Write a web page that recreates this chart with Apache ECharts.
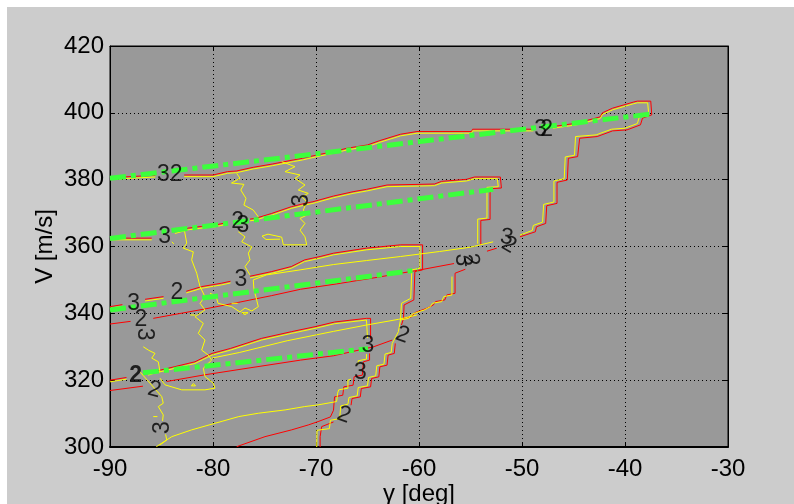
<!DOCTYPE html>
<html>
<head>
<meta charset="utf-8">
<script src="https://cdn.jsdelivr.net/npm/echarts@6/dist/echarts.min.js"></script>
<style>
html,body{margin:0;padding:0;background:#ffffff;}
#bg{position:absolute;left:7px;top:7px;width:787px;height:497px;background:#cccccc;}
#chart{position:absolute;left:0;top:0;width:794px;height:504px;}
</style>
</head>
<body>
<div id="bg"></div>
<div id="chart"></div>
<script>
// ---- axes ----
const xMin = -90, xMax = -30, xStep = 10;
const yMin = 300, yMax = 420, yStep = 20;
const xName = 'γ [deg]';
const yName = 'V [m/s]';

// ---- green dash-dot reference lines ----
const green1 = [[-90,380.4],[-37.6,399.6]];
const green2 = [[-90,362.4],[-52.8,377.1]];
const green3 = [[-90,341.0],[-60.1,353.0]];
const green4 = [[-86.8,322.2],[-64.95,329.4]];

// ---- red contours (level 2) ----
const r1a = [[-90,380.6],[-85.6,381.3]];
const r1b = [[-82.8,381.4],[-80.0,381.4],[-78.6,382.4],[-77.7,382.6],[-76.1,383.7],[-74.2,384.7],[-72.2,385.9],[-71.3,386.4],[-69.9,387.4],[-68.3,388.4],[-67.0,389.4],[-65.0,390.4],[-63.8,391.7],[-61.8,393.6],[-60.2,394.4],[-54.9,394.4],[-54.8,395.1],[-48.9,395.1]];
const r1c = [[-47.0,395.9],[-44.7,396.9],[-42.4,398.8],[-42.2,400.0],[-41.2,401.4],[-39.2,403.2],[-38.8,403.5],[-37.5,403.5],[-37.4,399.4],[-38.3,398.4],[-38.5,396.4],[-39.8,394.9],[-41.2,394.6],[-42.7,392.9],[-44.4,392.4],[-44.6,386.9],[-45.5,386.4],[-45.6,379.9],[-46.6,379.2],[-46.6,372.9],[-47.6,372.2],[-47.7,366.9],[-48.6,365.9],[-48.7,364.4],[-50.2,362.9]];
const r2a = [[-90,362.5],[-85.95,362.5]];
const r2b = [[-83.7,364.4],[-82.4,365.5],[-81.1,366.0],[-79.8,366.4],[-78.6,367.2]];
const r2c = [[-76.4,368.2],[-75.9,368.4],[-74.3,369.9],[-72.4,371.9],[-71.1,372.9],[-70.3,373.4],[-68.3,375.1],[-66.4,376.4],[-65.1,377.1],[-63.1,378.4],[-59.9,378.6],[-58.5,378.7],[-57.8,379.5],[-55.4,380.1],[-54.6,380.8],[-52.1,380.8],[-52.0,377.5],[-53.1,377.3],[-53.1,368.1],[-54.0,367.8],[-54.0,360.5]];
const r3a = [[-90,342.0],[-88.8,342.6]];
const r3b = [[-86.6,344.2],[-84.8,345.0]];
const r3c = [[-82.6,346.6],[-81.1,348.0],[-79.2,349.0],[-78.3,349.6]];
const r3d = [[-76.4,351.1],[-74.3,352.5],[-72.4,354.0],[-71.1,356.0],[-69.6,357.0],[-68.3,358.0],[-65.1,359.5],[-61.8,360.5],[-59.65,360.5],[-59.65,353.0],[-60.4,352.5],[-60.5,344.0],[-61.45,342.5],[-61.5,338.5]];
const r4a = [[-90,320.0],[-88.4,320.8]];
const r4b = [[-86.3,322.0],[-85.8,322.5],[-81.75,325.5],[-80.1,328.0],[-78.3,329.5],[-75.3,332.5],[-72.4,334.5],[-70.1,336.0],[-68.2,337.4],[-65.1,338.5],[-64.7,338.5],[-64.7,332.3]];
const r4c = [[-64.8,328.0],[-64.8,326.0],[-65.4,325.5],[-65.5,321.5],[-66.3,321.0],[-66.4,318.5],[-67.3,318.0],[-67.4,315.5],[-68.2,315.0],[-68.3,311.0],[-68.6,309.0]];
const r5a = [[-90,336.8],[-88.0,337.6]];
const r5b = [[-85.8,338.5],[-80.8,341.3],[-77.5,343.3],[-74.3,345.3],[-71.5,347.2],[-68.0,348.8],[-64.0,350.8],[-59.9,353.0],[-56.6,354.9]];
const r5c = [[-53.4,358.6],[-52.45,359.5]];
const r6a = [[-90,316.9],[-86.8,318.2]];
const r6b = [[-84.5,319.6],[-80.8,321.6],[-76.6,323.6],[-71.5,326.0],[-68.3,327.3],[-64.4,330.0],[-62.6,332.0]];
const qRa = [[-55.5,353.2],[-56.5,352.0],[-56.5,346.0],[-57.3,345.5],[-57.5,344.0],[-58.4,343.5],[-58.6,342.5],[-59.25,341.5],[-59.7,341.0],[-60.4,340.2],[-60.7,339.0],[-61.5,338.5],[-61.7,336.5]];
const qRb = [[-62.3,331.0],[-62.4,328.0],[-63.0,327.5],[-63.1,324.5],[-63.8,324.0],[-63.9,321.0],[-64.6,320.5],[-64.7,318.0],[-65.6,317.5],[-65.7,315.0],[-66.5,314.5],[-66.6,312.5]];
const qRc = [[-68.3,307.5],[-69.45,306.1],[-69.6,303.1],[-69.6,300]];
const r7 = [[-77.7,300.1],[-74.95,303.1],[-72.4,305.1],[-70.75,306.6],[-69.8,307.6],[-68.6,309.0]];

// ---- yellow contours (level 3) ----
const y1a = [[-90,380.1],[-85.6,380.8]];
const y1b = [[-82.8,380.9],[-80.0,380.9],[-78.6,381.9],[-77.7,382.1],[-76.1,383.2],[-74.2,384.2],[-72.2,385.4],[-71.3,385.9],[-69.9,386.9],[-68.3,387.9],[-67.0,388.9],[-65.0,389.9],[-63.8,391.2],[-61.8,393.1],[-60.2,393.9],[-54.9,393.9],[-54.8,394.6],[-48.9,394.6]];
const y1c = [[-47.0,395.4],[-44.7,396.4],[-42.4,398.3],[-42.2,399.5],[-41.2,400.9],[-39.2,402.7],[-38.8,403.0],[-37.8,403.0],[-37.7,399.7],[-38.6,398.8],[-38.8,396.8],[-40.0,395.4],[-41.3,395.1],[-42.8,393.4],[-44.8,392.9],[-44.9,387.3],[-45.8,386.8],[-45.9,380.3],[-46.9,379.6],[-46.9,373.3],[-47.9,372.6],[-48.0,367.3],[-48.9,366.3],[-49.0,364.8],[-50.2,363.4]];
const y2a = [[-90,362.0],[-85.95,362.0]];
const y2b = [[-83.7,363.9],[-82.4,365.0],[-81.1,365.5],[-79.8,365.9],[-78.6,366.7]];
const y2c = [[-76.4,367.7],[-75.9,367.9],[-74.3,369.4],[-72.4,371.4],[-71.1,372.4],[-70.3,372.9],[-68.3,374.6],[-66.4,375.9],[-65.1,376.6],[-63.1,377.9],[-59.9,378.1],[-58.5,378.2],[-57.8,379.0],[-55.4,379.6],[-54.6,380.3],[-52.4,380.3],[-52.3,377.9],[-53.4,377.7],[-53.4,368.5],[-54.3,368.2],[-54.3,360.8]];
const y3a = [[-90,341.5],[-88.8,342.1]];
const y3b = [[-86.6,343.7],[-84.8,344.5]];
const y3c = [[-82.6,346.1],[-81.1,347.5],[-79.2,348.5],[-78.3,349.1]];
const y3d = [[-76.4,350.6],[-74.3,352.0],[-72.4,353.5],[-71.1,355.5],[-69.6,356.5],[-68.3,357.5],[-65.1,359.0],[-61.8,360.0],[-59.9,360.0],[-59.9,353.5],[-60.7,353.0],[-60.8,344.5],[-61.7,343.0],[-61.8,338.0]];
const y3in = [[-76.1,350.0],[-74.8,351.5],[-71.55,353.0],[-68.3,354.6],[-65.1,355.8],[-61.8,357.0],[-58.0,358.5],[-55.0,359.8],[-52.8,361.4]];
const y4a = [[-90,319.5],[-88.4,320.3]];
const y4b = [[-86.3,321.5],[-85.8,322.0],[-81.75,325.0],[-80.1,327.5],[-78.3,329.0],[-75.3,332.0],[-72.4,334.0],[-70.1,335.5],[-68.2,336.9],[-65.1,338.0],[-65.0,338.0],[-65.0,332.6]];
const y4c = [[-65.1,327.8],[-65.1,326.3],[-65.9,325.8],[-65.9,324.8]];
const y4d = [[-66.6,320.3],[-66.9,320.0],[-66.9,317.6],[-67.8,317.1],[-67.9,316.1]];
const y4in = [[-80.1,326.6],[-77.4,328.3],[-72.8,331.8],[-68.3,334.6],[-65.1,336.5],[-62.0,338.2],[-60.2,339.5]];
const qY = [[-56.8,351.0],[-56.8,345.5],[-57.6,345.0],[-57.8,343.5],[-58.7,343.0],[-58.9,342.0],[-59.5,341.0],[-60.0,340.5],[-60.7,339.7],[-61.0,338.5],[-61.8,338.0],[-62.0,334.5],[-62.6,331.0],[-62.7,328.3],[-63.3,327.8],[-63.4,324.8],[-64.1,324.3],[-64.2,321.3],[-64.9,320.8],[-65.0,318.3],[-65.9,317.8],[-66.0,315.3],[-66.8,314.8],[-66.9,312.8],[-67.6,312.3],[-67.7,308.5],[-68.6,308.0],[-68.7,305.5],[-69.9,305.0],[-69.93,300]];
const y5 = [[-85.5,300.1],[-84.0,303.1],[-82.1,305.1],[-79.8,307.1],[-77.5,309.1],[-75.6,310.1],[-73.0,311.1],[-71.1,312.1],[-69.8,312.6],[-68.0,313.6],[-67.9,316.1]];
const wigA = [[-77.7,381.9],[-77.38,380.4],[-78.2,379.0],[-77.0,378.6],[-77.3,376.9],[-76.8,374.4],[-77.0,372.4],[-76.09,370.9],[-75.6,368.9]];
const wigB = [[-73.33,385.4],[-72.04,383.9],[-73.01,382.4],[-71.55,381.4],[-72.04,380.4],[-71.07,378.4],[-71.72,376.9],[-70.75,375.9],[-71.39,374.9],[-70.9,373.4],[-71.07,372.9],[-71.23,370.9],[-70.9,369.4],[-71.55,368.4],[-71.07,366.9],[-71.55,364.9],[-71.07,362.9],[-70.9,360.5],[-73.17,360.5],[-73.33,362.8],[-74.66,363.7],[-75.24,363.1],[-74.85,362.1],[-73.49,362.2]];
const wigC = [[-77.54,364.4],[-76.89,362.9],[-77.21,361.4],[-76.24,359.9],[-76.57,358.0],[-76.41,356.0],[-76.89,354.0],[-76.41,351.5]];
const wigC2 = [[-76.09,350.0],[-76.02,347.0],[-75.83,344.9],[-75.6,342.0],[-76.24,340.7],[-76.89,341.6],[-77.38,340.4],[-78.18,342.0],[-79.51,343.0],[-79.71,345.2],[-80.29,346.0]];
const wigD = [[-82.8,365.2],[-82.55,361.0],[-82.88,359.5],[-81.91,358.4],[-82.07,356.0],[-81.58,352.0],[-81.26,348.0],[-80.78,345.0],[-81.26,343.0],[-80.78,341.0],[-81.75,339.0],[-80.94,337.0],[-81.43,334.0],[-80.78,332.0],[-81.1,329.0],[-80.46,327.5],[-80.13,326.0]];
const wigD2 = [[-80.13,326.0],[-80.94,323.6],[-80.78,321.1],[-79.97,319.1],[-79.81,317.6],[-80.78,317.1],[-83.04,317.1],[-84.66,318.6],[-85.15,320.6]];
const wigE = [[-86.77,330.0],[-86.28,329.0],[-85.63,328.0],[-85.95,326.6],[-85.31,325.5],[-85.15,322.5]];
const wigE2 = [[-87.09,322.5],[-84.98,315.1],[-84.83,313.1],[-85.31,312.1],[-84.83,309.6],[-84.9,307.8]];
const wigE3 = [[-84.6,303.8],[-84.49,302.1],[-85.15,300.6]];
const dot1 = [[-78.2,343.0],[-77.6,343.0]];
const dot2 = [[-77.2,340.2],[-76.9,339.6],[-76.6,340.2],[-77.2,340.2]];
const dot3 = [[-82.2,339.5],[-81.7,339.5]];
const dot4 = [[-82.1,318.3],[-81.9,319.0],[-81.7,318.3],[-82.1,318.3]];
const dot5 = [[-85.8,309.1],[-85.4,309.1]];
const dot6 = [[-84.0,361.4],[-83.8,360.8]];

// ---- contour labels ----
const labelText = ['32','3','2','3','2','3','3','3','2','3','2','3','2','2','3','3','3','2','2','3','2','3','2'];
const labelX    = [-84.2,-48.2,-47.6,-84.7,-77.6,-77.1,-71.4,-77.3,-83.5,-87.7,-87.0,-86.7,-87.5,-85.7,-84.85,-64.95,-65.7,-61.6,-67.3,-55.8,-55.0,-51.5,-51.26];
const labelY    = [381.4,394.9,395.1,362.9,367.4,366.2,373.8,350.0,346.1,342.8,338.0,333.8,321.3,317.1,305.8,330.2,322.2,333.5,309.6,356.0,356.0,362.7,360.5];
const labelRot  = [0,0,0,0,0,0,90,0,0,0,0,-90,0,-15,90,0,0,-20,-20,-90,-80,-10,-30];

const redLines = [r1a,r1b,r1c,r2a,r2b,r2c,r3a,r3b,r3c,r3d,r4a,r4b,r4c,r5a,r5b,r5c,r6a,r6b,qRa,qRb,qRc,r7];
const yellowLines = [y1a,y1b,y1c,y2a,y2b,y2c,y3a,y3b,y3c,y3d,y3in,y4a,y4b,y4c,y4d,y4in,qY,y5,wigA,wigB,wigC,wigC2,wigD,wigD2,wigE,wigE2,wigE3,dot1,dot2,dot3,dot4,dot5,dot6];
const greenLines = [green1,green2,green3,green4];

const FONT = 'Liberation Sans, Arial, Helvetica, sans-serif';

function mkLine(data, color, width, type, z) {
  return {
    type: 'line', data: data, showSymbol: false, symbol: 'none',
    xAxisIndex: 0, yAxisIndex: 0, silent: true, z: z,
    lineStyle: {color: color, width: width, type: type, cap: 'butt'},
    animation: false
  };
}

const series = [];
redLines.forEach(d => series.push(mkLine(d, '#ff0000', 1, 'solid', 2)));
yellowLines.forEach(d => series.push(mkLine(d, '#ffff00', 1, 'solid', 3)));
greenLines.forEach(d => series.push(mkLine(d, '#3cff3c', 5, [16,5,5,5], 4)));

const labelData = labelText.map((t, i) => ({
  value: [labelX[i], labelY[i]],
  label: {formatter: t, rotate: labelRot[i], fontWeight: (i === 12 ? 'bold' : 'normal')}
}));
series.push({
  type: 'scatter', data: labelData, symbolSize: 0, z: 10, silent: true, animation: false,
  label: {show: true, position: 'inside', color: '#000', fontSize: 23, fontFamily: FONT}
});

const tickStyle = {show: true, inside: true, length: 5, lineStyle: {color: '#000'}};

const option = {
  backgroundColor: 'transparent',
  animation: false,
  grid: {left: 110, right: 66, top: 46, bottom: 57, containLabel: false, outerBoundsMode: 'none',
         show: true, backgroundColor: '#999999', borderColor: '#000', borderWidth: 1},
  xAxis: [
    {
      type: 'value', min: xMin, max: xMax, interval: xStep, position: 'bottom',
      axisLine: {show: true, onZero: false, lineStyle: {color: '#000', width: 2}},
      axisTick: tickStyle,
      axisLabel: {color: '#000', fontSize: 24, fontFamily: FONT, margin: 10},
      splitLine: {show: true, lineStyle: {color: '#000', type: [1,3], width: 1}},
      name: xName, nameLocation: 'middle', nameGap: 35, nameMoveOverlap: false,
      nameTextStyle: {color: '#000', fontSize: 24, fontFamily: FONT}
    },
    {
      type: 'value', min: xMin, max: xMax, interval: xStep, position: 'top',
      axisLine: {show: true, onZero: false, lineStyle: {color: '#000', width: 1}},
      axisTick: tickStyle,
      axisLabel: {show: false}, splitLine: {show: false}
    }
  ],
  yAxis: [
    {
      type: 'value', min: yMin, max: yMax, interval: yStep, position: 'left',
      axisLine: {show: true, onZero: false, lineStyle: {color: '#000', width: 1}},
      axisTick: tickStyle,
      axisLabel: {color: '#000', fontSize: 24, fontFamily: FONT, margin: 6},
      splitLine: {show: true, lineStyle: {color: '#000', type: [1,3], width: 1}},
      name: yName, nameLocation: 'middle', nameGap: 53, nameRotate: 90, nameMoveOverlap: false,
      nameTextStyle: {color: '#000', fontSize: 24, fontFamily: FONT}
    },
    {
      type: 'value', min: yMin, max: yMax, interval: yStep, position: 'right',
      axisLine: {show: true, onZero: false, lineStyle: {color: '#000', width: 1}},
      axisTick: tickStyle,
      axisLabel: {show: false}, splitLine: {show: false}
    }
  ],
  series: series
};

const chart = echarts.init(document.getElementById('chart'), null, {renderer: 'canvas'});
chart.setOption(option);
</script>
</body>
</html>
